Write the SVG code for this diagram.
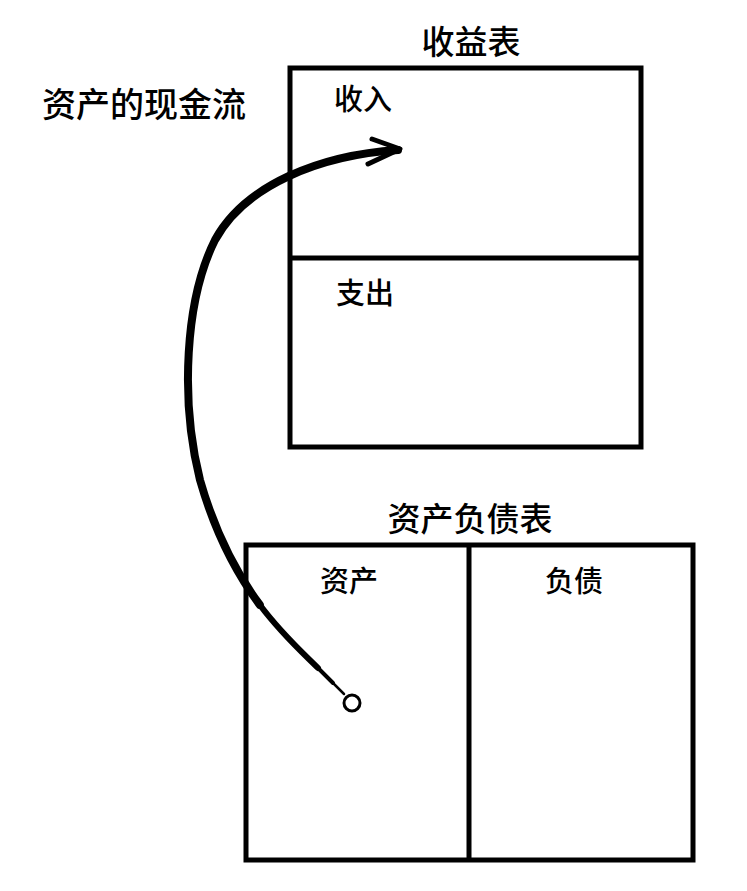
<svg xmlns="http://www.w3.org/2000/svg" width="747" height="891" viewBox="0 0 747 891">
<style>
.t{font-family:"Noto Sans CJK SC","Noto Sans",sans-serif;fill:#000;font-weight:500}
.box{fill:none;stroke:#000;stroke-width:5}
.ln{stroke:#000;stroke-width:5}
</style>
<rect width="747" height="891" fill="#fff"/>
<g id="title-income"><text class="t" x="471" y="54" font-size="33" text-anchor="middle">收益表</text></g>
<g id="label-cashflow"><text class="t" x="42" y="117" font-size="34">资产的现金流</text></g>
<g id="income-statement">
<rect class="box" x="290" y="68" width="351" height="379"/>
<line class="ln" x1="290" y1="258" x2="641" y2="258"/>
</g>
<g id="income"><text class="t" x="334" y="110" font-size="29">收入</text></g>
<g id="expense"><text class="t" x="336" y="304" font-size="29">支出</text></g>
<g id="title-balance"><text class="t" x="470" y="531" font-size="33" text-anchor="middle">资产负债表</text></g>
<g id="balance-sheet">
<rect class="box" x="246" y="545" width="447" height="315"/>
<line class="ln" x1="469" y1="545" x2="469" y2="860"/>
</g>
<g id="assets"><text class="t" x="349" y="592" font-size="29" text-anchor="middle">资产</text></g>
<g id="liabilities"><text class="t" x="574" y="592" font-size="29" text-anchor="middle">负债</text></g>
<g id="connectors" fill="none" stroke="#000" stroke-linecap="round" stroke-linejoin="round">
<path d="M344,694 L333,683" stroke-width="2.5"/>
<path d="M333,683 L318,668" stroke-width="4"/>
<path d="M259.75,604.75 C281.5,634 303,653 318,668" stroke-width="6"/>
<path d="M259.75,604.75 C238,575.5 216,536 200,480 C180,400 185,300 215,240 C245,185 320,155 398,150" stroke-width="8"/>
<polyline points="372,139 400,149 368,164" stroke-width="5"/>
<circle cx="352" cy="703" r="8" stroke-width="3" fill="#fff"/>
</g>
</svg>
